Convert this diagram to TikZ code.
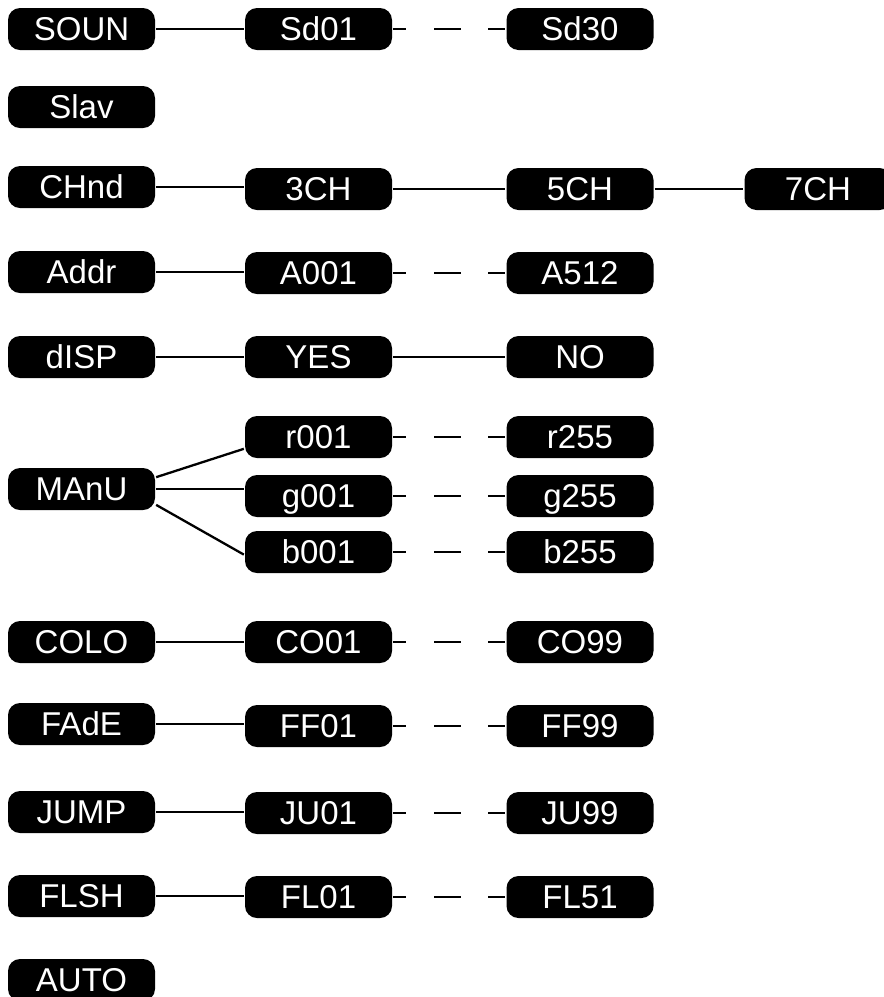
\documentclass[tikz,border=0pt]{standalone}
\usepackage{fontspec}
\setmainfont{Liberation Sans}
\usetikzlibrary{positioning}

\begin{document}
\begin{tikzpicture}[
  x=1pt, y=-1pt, line width=2.3pt,
  menu/.style={rectangle, rounded corners=12pt, fill=black, text=white,
    minimum width=147pt, minimum height=42pt, inner sep=0pt,
    text height=23pt, text depth=0pt, font=\fontsize{33}{34}\selectfont},
  skipline/.style={dash pattern=on 13pt off 28pt on 27pt off 27pt on 30pt}
]
\useasboundingbox (0,0) rectangle (884,997);

\node[menu] (soun) at (81.5,29) {SOUN};
  \node[menu] (soun-1) at (318.5,29) {Sd01};
  \node[menu] (soun-2) at (580,29) {Sd30};
\node[menu] (slav) at (81.5,107) {Slav};
\node[menu] (chnd) at (81.5,187) {CHnd};
  \node[menu] (chnd-1) at (318.5,189) {3CH};
  \node[menu] (chnd-2) at (580,189) {5CH};
  \node[menu] (chnd-3) at (818,189) {7CH};
\node[menu] (addr) at (81.5,272) {Addr};
  \node[menu] (addr-1) at (318.5,273) {A001};
  \node[menu] (addr-2) at (580,273) {A512};
\node[menu] (disp) at (81.5,357) {dISP};
  \node[menu] (disp-1) at (318.5,357) {YES};
  \node[menu] (disp-2) at (580,357) {NO};
\node[menu] (manu) at (81.5,489) {MAnU};
  \node[menu] (manu-r1) at (318.5,437) {r001};
  \node[menu] (manu-r2) at (580,437) {r255};
  \node[menu] (manu-g1) at (318.5,496) {g001};
  \node[menu] (manu-g2) at (580,496) {g255};
  \node[menu] (manu-b1) at (318.5,552) {b001};
  \node[menu] (manu-b2) at (580,552) {b255};
\node[menu] (colo) at (81.5,642) {COLO};
  \node[menu] (colo-1) at (318.5,642) {CO01};
  \node[menu] (colo-2) at (580,642) {CO99};
\node[menu] (fade) at (81.5,724) {FAdE};
  \node[menu] (fade-1) at (318.5,726) {FF01};
  \node[menu] (fade-2) at (580,726) {FF99};
\node[menu] (jump) at (81.5,812) {JUMP};
  \node[menu] (jump-1) at (318.5,813) {JU01};
  \node[menu] (jump-2) at (580,813) {JU99};
\node[menu] (flsh) at (81.5,896) {FLSH};
  \node[menu] (flsh-1) at (318.5,897) {FL01};
  \node[menu] (flsh-2) at (580,897) {FL51};
\node[menu] (auto) at (81.5,980) {AUTO};

\draw (soun) -- (soun-1);
  \draw[skipline] (soun-1) -- (soun-2);
\draw (chnd.east) -- (chnd-1.west |- chnd.east);
  \draw (chnd-1) -- (chnd-2);
  \draw (chnd-2) -- (chnd-3);
\draw (addr.east) -- (addr-1.west |- addr.east);
  \draw[skipline] (addr-1) -- (addr-2);
\draw (disp) -- (disp-1);
  \draw (disp-1) -- (disp-2);
\draw (manu.9) -- (manu-r1.189);
  \draw[skipline] (manu-r1) -- (manu-r2);
\draw (manu.east) -- (manu-g1.west |- manu.east);
  \draw[skipline] (manu-g1) -- (manu-g2);
\draw (manu.-12) -- (manu-b1.182);
  \draw[skipline] (manu-b1) -- (manu-b2);
\draw (colo) -- (colo-1);
  \draw[skipline] (colo-1) -- (colo-2);
\draw (fade.east) -- (fade-1.west |- fade.east);
  \draw[skipline] (fade-1) -- (fade-2);
\draw (jump.east) -- (jump-1.west |- jump.east);
  \draw[skipline] (jump-1) -- (jump-2);
\draw (flsh.east) -- (flsh-1.west |- flsh.east);
  \draw[skipline] (flsh-1) -- (flsh-2);
\end{tikzpicture}
\end{document}
